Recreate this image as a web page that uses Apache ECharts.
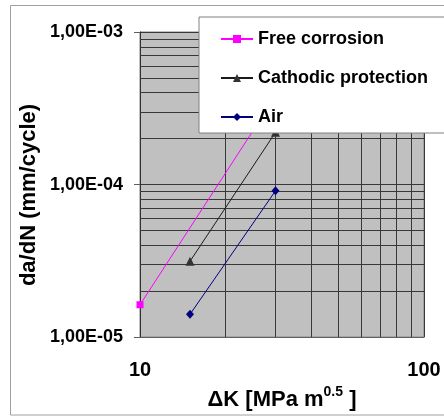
<!DOCTYPE html>
<html>
<head>
<meta charset="utf-8">
<script src="https://cdn.jsdelivr.net/npm/echarts@6/dist/echarts.min.js"></script>
<style>
html,body{margin:0;padding:0;background:#fff;}
#c{width:444px;height:416px;}
</style>
</head>
<body>
<div id="c"></div>
<script>
// ---- data ----
var seriesNames = ['Free corrosion', 'Cathodic protection', 'Air'];
var kFree = [10, 30];
var daFree = [1.63e-5, 3.8e-4];
var kCath = [15, 30];
var daCath = [3.14e-5, 2.2e-4];
var kAir = [15, 30];
var daAir = [1.41e-5, 9.1e-5];
var xRange = [10, 100];
var yRange = [1e-5, 1e-3];
var xTickValues = [10, 100];
var xTickLabels = ['10', '100'];
var yTickValues = [1e-5, 1e-4, 1e-3];
var yTickLabels = ['1,00E-05', '1,00E-04', '1,00E-03'];
var xMinorGrid = [20, 30, 40, 50, 60, 70, 80, 90];
var yMinorGrid = [2e-5, 3e-5, 4e-5, 5e-5, 6e-5, 7e-5, 8e-5, 9e-5,
                  2e-4, 3e-4, 4e-4, 5e-4, 6e-4, 7e-4, 8e-4, 9e-4];
var yTitle = 'da/dN (mm/cycle)';

function pairs(xs, ys) { return xs.map(function (x, i) { return [x, ys[i]]; }); }
function lookup(vals, labels, v) {
  for (var i = 0; i < vals.length; i++) {
    if (Math.abs(Math.log10(vals[i]) - Math.log10(v)) < 1e-6) return labels[i];
  }
  return '';
}

var FONT = 'Liberation Sans, Arial, sans-serif';
var gridLineStyle = { color: '#383838', width: 1, type: 'solid' };
var minorLines = xMinorGrid.map(function (v) {
  return [{ coord: [v, yRange[0]] }, { coord: [v, yRange[1]] }];
}).concat(yMinorGrid.map(function (v) {
  return [{ coord: [xRange[0], v] }, { coord: [xRange[1], v] }];
}));

var chart = echarts.init(document.getElementById('c'), null, { renderer: 'canvas' });
chart.setOption({
  animation: false,
  backgroundColor: '#ffffff',
  graphic: [{
    type: 'rect', silent: true, z: -10,
    shape: { x: 10.5, y: 5.5, width: 460, height: 409.5 },
    style: { fill: 'none', stroke: '#a0a0a0', lineWidth: 1 }
  }, {
    type: 'text', silent: true,
    x: 29, y: 195, rotation: Math.PI / 2,
    style: {
      text: yTitle, fontFamily: FONT, fontWeight: 'bold', fontSize: 22, fill: '#000',
      align: 'center', verticalAlign: 'middle'
    }
  }],
  grid: {
    left: 140, top: 32, width: 284, height: 319,
    show: true, backgroundColor: '#c0c0c0', borderColor: '#808080', borderWidth: 1
  },
  legend: {
    data: seriesNames,
    orient: 'vertical',
    left: 199, top: 17,
    padding: [13, 40, 7, 21],
    itemWidth: 32, itemHeight: 10, itemGap: 21,
    backgroundColor: '#ffffff',
    borderColor: '#808080', borderWidth: 1,
    lineStyle: { width: 2 },
    textStyle: { fontFamily: FONT, fontWeight: 'bold', fontSize: 18, color: '#000' }
  },
  xAxis: {
    type: 'log', logBase: 10, min: xRange[0], max: xRange[1],
    name: '{a|ΔK [MPa m}{b|0.5}{a| ]}',
    nameLocation: 'middle', nameGap: 47,
    nameTextStyle: {
      rich: {
        a: { fontFamily: FONT, fontWeight: 'bold', fontSize: 22, color: '#000', lineHeight: 30, verticalAlign: 'middle' },
        b: { fontFamily: FONT, fontWeight: 'bold', fontSize: 14, color: '#000', lineHeight: 14, verticalAlign: 'top' }
      }
    },
    axisLine: { show: true, lineStyle: { color: '#606060', width: 1 } },
    axisTick: { show: false },
    axisLabel: {
      margin: 23, fontFamily: FONT, fontWeight: 'bold', fontSize: 20, color: '#000',
      formatter: function (v) { return lookup(xTickValues, xTickLabels, v); }
    },
    splitLine: { show: true, lineStyle: gridLineStyle }
  },
  yAxis: {
    type: 'log', logBase: 10, min: yRange[0], max: yRange[1],
    axisLine: { show: true, lineStyle: { color: '#303030', width: 1 } },
    axisTick: { show: true, length: 6, lineStyle: { color: '#606060' } },
    axisLabel: {
      margin: 17, fontFamily: FONT, fontWeight: 'bold', fontSize: 18, color: '#000',
      formatter: function (v) { return lookup(yTickValues, yTickLabels, v); }
    },
    splitLine: { show: true, lineStyle: gridLineStyle }
  },
  series: [
    {
      name: seriesNames[0], type: 'line', data: pairs(kFree, daFree),
      symbol: 'rect', symbolSize: 7,
      lineStyle: { color: '#ff00ff', width: 1 },
      itemStyle: { color: '#ff00ff' },
      markLine: {
        silent: true, z: 1, animation: false,
        symbol: ['none', 'none'],
        label: { show: false },
        emphasis: { disabled: true },
        lineStyle: gridLineStyle,
        data: minorLines
      }
    },
    {
      name: seriesNames[1], type: 'line', data: pairs(kCath, daCath),
      symbol: 'triangle', symbolSize: 9,
      lineStyle: { color: '#1a1a1a', width: 1 },
      itemStyle: { color: '#333333' }
    },
    {
      name: seriesNames[2], type: 'line', data: pairs(kAir, daAir),
      symbol: 'diamond', symbolSize: [8, 9],
      lineStyle: { color: '#000080', width: 1 },
      itemStyle: { color: '#000080' }
    }
  ]
});
</script>
</body>
</html>
